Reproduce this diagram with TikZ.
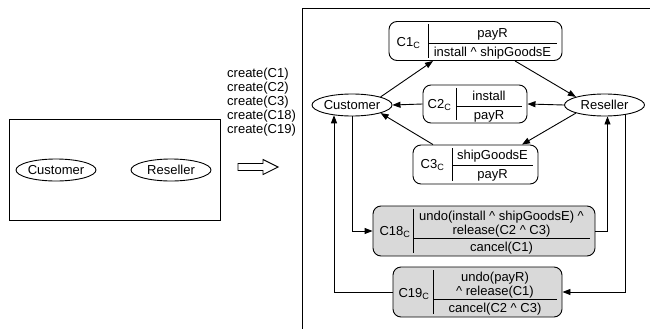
\documentclass[tikz,border=0pt]{standalone}
\usepackage{fontspec}
\setmainfont{Liberation Sans}
\usetikzlibrary{arrows.meta, shapes.geometric}
\definecolor{ctrgray}{RGB}{217,217,217}

\begin{document}
\begin{tikzpicture}[
    x=1bp, y=1bp,
    every node/.style={font=\fontsize{13bp}{14bp}\selectfont, inner sep=0pt},
    party/.style={ellipse, draw, line width=0.9bp, minimum width=80bp, minimum height=22bp},
    ctr/.style={rectangle, draw, line width=0.9bp, rounded corners=8bp, fill=white},
    undo/.style={ctr, fill=ctrgray},
    txt/.style={anchor=base},
    rule/.style={line width=0.9bp},
    conn/.style={-{Triangle[length=8bp, width=6bp]}, line width=0.9bp}
]
\useasboundingbox (0,0) rectangle (650,328);
\clip (0,0) rectangle (650,328);

% ============ BEFORE ============
\draw[rule] (9,108) rectangle (220,209);
\node[party] (cust0) at (56,158) {Customer};
\node[party] (res0) at (171,158) {Reseller};

% create list and big arrow
\node[align=left, anchor=west] (create) at (227,226) {
    create(C1)\\
    create(C2)\\
    create(C3)\\
    create(C18)\\
    create(C19)
};
\draw[rule] (238,157.5) -- (263,157.5) -- (263,153.5) -- (278,161)
    -- (263,168.5) -- (263,164.5) -- (238,164.5) -- cycle;

% ============ AFTER ============
\draw[rule] (302,-20) rectangle (652,320);

\node[party] (cust) at (352,223) {Customer};
\node[party] (res) at (604.5,223) {Reseller};

% C1
\node[ctr, minimum width=173bp, minimum height=39bp] (c1) at (475.5,287) {};
\draw[rule] (428,303.5) -- (428,270.5);
\draw[rule] (428,285) -- (557,285);
\node[txt] (c1l) at (408.5,282) {C1\textsubscript{C}};
\node[txt] (c1t) at (492.5,290.5) {payR};
\node[txt] (c1b) at (492.5,271.5) {install \textasciicircum\ shipGoodsE};

% C2
\node[ctr, minimum width=104bp, minimum height=38bp] (c2) at (475,224) {};
\draw[rule] (456,240) -- (456,208);
\draw[rule] (456,222) -- (522,222);
\node[txt] (c2l) at (439.5,219.5) {C2\textsubscript{C}};
\node[txt] (c2t) at (489,227.5) {install};
\node[txt] (c2b) at (489,208.5) {payR};

% C3
\node[ctr, minimum width=125bp, minimum height=39bp] (c3) at (475.5,163.5) {};
\draw[rule] (452,180) -- (452,147);
\draw[rule] (452,163) -- (533,163);
\node[txt] (c3l) at (432.5,159.5) {C3\textsubscript{C}};
\node[txt] (c3t) at (492.5,168.5) {shipGoodsE};
\node[txt] (c3b) at (492.5,149.5) {payR};

% C18
\node[undo, minimum width=222bp, minimum height=50bp] (c18) at (484,97) {};
\draw[rule] (413,119) -- (413,75);
\draw[rule] (413,90) -- (590,90);
\node[txt] (c18l) at (395,93) {C18\textsubscript{C}};
\node[align=center] (c18t) at (501.5,104) {
    undo(install \textasciicircum\ shipGoodsE) \textasciicircum\\
    release(C2 \textasciicircum\ C3)
};
\node[txt] (c18b) at (501.5,76.5) {cancel(C1)};

% C19
\node[undo, minimum width=169bp, minimum height=50bp] (c19) at (477.5,36) {};
\draw[rule] (433,58) -- (433,14);
\draw[rule] (433,29) -- (557,29);
\node[txt] (c19l) at (414,30.7) {C19\textsubscript{C}};
\node[align=center] (c19t) at (495,42.5) {
    undo(payR)\\
    \textasciicircum\ release(C1)
};
\node[txt] (c19b) at (495,15.5) {cancel(C2 \textasciicircum\ C3)};

% ============ CONNECTIONS ============
\draw[conn] (cust.north east) -- ([xshift=-42.5bp]c1.south);
\draw[conn] ([xshift=39.5bp]c1.south) -- (res.north west);
\draw[conn] (res.west) -- (c2.east);
\draw[conn] (c2.west) -- (cust.east);
\draw[conn] (res.south west) -- ([xshift=46.5bp]c3.north);
\draw[conn] ([xshift=-42.5bp]c3.north) -- (cust.south east);
\draw[conn] (cust.south) |- (c18.west);
\draw[conn] (c18.east) -| ([xshift=3bp]res.south);
\draw[conn] ([xshift=21bp, yshift=1.5bp]res.south) |- (c19.east);
\draw[conn] (c19.west) -| ([xshift=-18bp, yshift=1.2bp]cust.south);

\end{tikzpicture}
\end{document}
